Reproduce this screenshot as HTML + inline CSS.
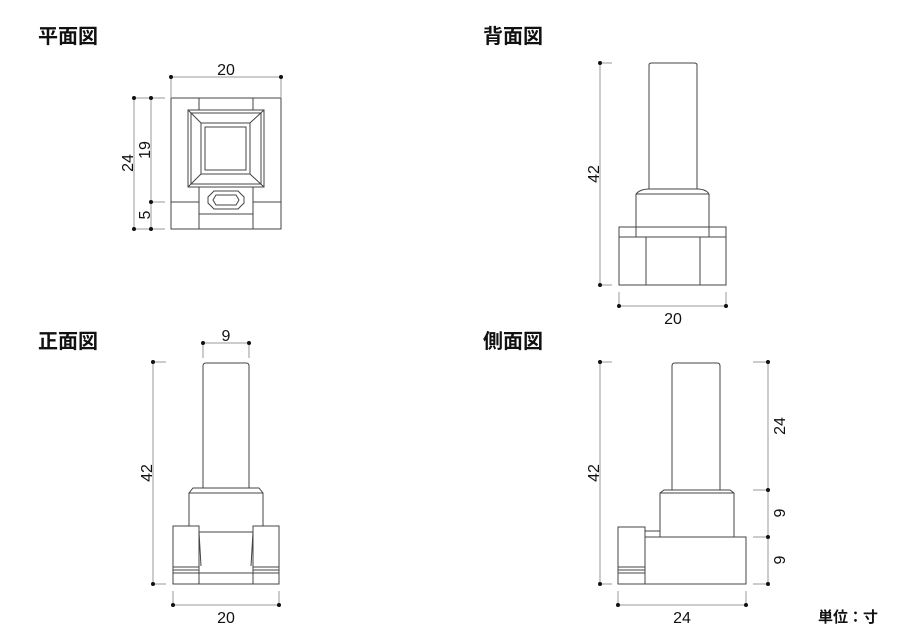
<!DOCTYPE html>
<html><head><meta charset="utf-8"><style>
html,body{margin:0;padding:0;background:#fff;}
svg{display:block;}
text{font-family:"Liberation Sans","Noto Sans CJK JP",sans-serif;fill:#111;}
.t{font-size:20px;font-weight:bold;}
.d{font-size:16px;}
</style></head><body>
<svg width="900" height="636" viewBox="0 0 900 636" xmlns="http://www.w3.org/2000/svg">
<g fill="none" stroke="#444" stroke-width="1">
<!-- PLAN -->
<rect x="171" y="98" width="110" height="131"/>
<line x1="199" y1="98" x2="199" y2="229"/><line x1="253" y1="98" x2="253" y2="229"/>
<line x1="171" y1="202" x2="199" y2="202"/><line x1="253" y1="202" x2="281" y2="202"/>
<rect x="199" y="187" width="54" height="27" fill="#fff"/>
<rect x="188" y="110" width="76" height="77" fill="#fff"/>
<rect x="201" y="123" width="49" height="51"/>
<rect x="205" y="127" width="41" height="43"/>
<line x1="188" y1="110" x2="201" y2="123"/><line x1="264" y1="110" x2="250" y2="123"/>
<line x1="188" y1="187" x2="201" y2="174"/><line x1="264" y1="187" x2="250" y2="174"/>
<rect x="191" y="113" width="70" height="71"/>
<path d="M214 191 H238 L244 197 V203 L238 209 H214 L208 203 V197 Z"/>
<path d="M216 195 H236 L239 200 L236 205 H216 L213 200 Z"/>
<!-- BACK -->
<path d="M649 189 V65 Q649 63 652 63 H694 Q697 63 697 65 V189"/>
<path d="M636 237 V194 Q640 189 649 189 H697 Q706 189 709 194 V237"/>
<line x1="636" y1="194" x2="709" y2="194"/>
<rect x="619" y="227" width="107" height="58"/>
<line x1="619" y1="237" x2="726" y2="237"/>
<line x1="646" y1="237" x2="646" y2="285"/><line x1="700" y1="237" x2="700" y2="285"/>
<!-- FRONT -->
<path d="M203 488 V366 Q203 363 206 363 H246 Q249 363 249 366 V488"/>
<path d="M189 526 V493 L193 488 H259 L263 493 V526"/>
<line x1="189" y1="493" x2="263" y2="493"/>
<rect x="173" y="526" width="26" height="58"/><rect x="253" y="526" width="26" height="58"/>
<rect x="199" y="532" width="54" height="52"/>
<line x1="173" y1="567" x2="199" y2="567"/><line x1="173" y1="570" x2="199" y2="570"/><line x1="173" y1="573" x2="279" y2="573"/>
<line x1="253" y1="567" x2="279" y2="567"/><line x1="253" y1="570" x2="279" y2="570"/>
<path d="M199 532 L201 566 M253 532 L251 566"/>
<!-- SIDE -->
<path d="M672 490 V366 Q672 363 675 363 H717 Q720 363 720 366 V490"/>
<path d="M660 537 V493 L664 490 H730 L734 493 V537"/>
<line x1="660" y1="493" x2="734" y2="493"/>
<rect x="645" y="537" width="101" height="47"/>
<rect x="618" y="527" width="27" height="57"/>
<rect x="645" y="531" width="15" height="6"/>
<line x1="618" y1="567" x2="645" y2="567"/><line x1="618" y1="570" x2="645" y2="570"/><line x1="618" y1="573" x2="645" y2="573"/>
</g>
<g fill="none" stroke="#999" stroke-width="1">
<line x1="171" y1="77" x2="281" y2="77"/><line x1="171" y1="77" x2="171" y2="97"/><line x1="281" y1="77" x2="281" y2="97"/>
<line x1="134" y1="98" x2="134" y2="229"/><line x1="151" y1="98" x2="151" y2="229"/>
<line x1="134" y1="98" x2="165" y2="98"/><line x1="151" y1="202" x2="165" y2="202"/><line x1="134" y1="229" x2="165" y2="229"/>
<line x1="600" y1="63" x2="600" y2="285"/><line x1="600" y1="63" x2="612" y2="63"/><line x1="600" y1="285" x2="612" y2="285"/>
<line x1="619" y1="306" x2="726" y2="306"/><line x1="619" y1="292" x2="619" y2="306"/><line x1="726" y1="292" x2="726" y2="306"/>
<line x1="203" y1="343" x2="249" y2="343"/><line x1="203" y1="343" x2="203" y2="358"/><line x1="249" y1="343" x2="249" y2="358"/>
<line x1="153" y1="362" x2="153" y2="584"/><line x1="153" y1="362" x2="166" y2="362"/><line x1="153" y1="584" x2="166" y2="584"/>
<line x1="173" y1="605" x2="279" y2="605"/><line x1="173" y1="591" x2="173" y2="605"/><line x1="279" y1="591" x2="279" y2="605"/>
<line x1="600" y1="362" x2="600" y2="584"/><line x1="600" y1="362" x2="612" y2="362"/><line x1="600" y1="584" x2="612" y2="584"/>
<line x1="618" y1="605" x2="746" y2="605"/><line x1="618" y1="591" x2="618" y2="605"/><line x1="746" y1="591" x2="746" y2="605"/>
<line x1="768" y1="362" x2="768" y2="584"/>
<line x1="753" y1="362" x2="768" y2="362"/><line x1="753" y1="490" x2="768" y2="490"/><line x1="753" y1="537" x2="768" y2="537"/><line x1="753" y1="584" x2="768" y2="584"/>
</g>
<g fill="#111">
<circle cx="171" cy="77" r="2"/><circle cx="281" cy="77" r="2"/>
<circle cx="134" cy="98" r="2"/><circle cx="151" cy="98" r="2"/><circle cx="151" cy="202" r="2"/><circle cx="134" cy="229" r="2"/><circle cx="151" cy="229" r="2"/>
<circle cx="600" cy="63" r="2"/><circle cx="600" cy="285" r="2"/><circle cx="619" cy="306" r="2"/><circle cx="726" cy="306" r="2"/>
<circle cx="203" cy="343" r="2"/><circle cx="249" cy="343" r="2"/>
<circle cx="153" cy="362" r="2"/><circle cx="153" cy="584" r="2"/><circle cx="173" cy="605" r="2"/><circle cx="279" cy="605" r="2"/>
<circle cx="600" cy="362" r="2"/><circle cx="600" cy="584" r="2"/><circle cx="618" cy="605" r="2"/><circle cx="746" cy="605" r="2"/>
<circle cx="768" cy="362" r="2"/><circle cx="768" cy="490" r="2"/><circle cx="768" cy="537" r="2"/><circle cx="768" cy="584" r="2"/>
</g>
<text class="t" x="38" y="43">平面図</text>
<text class="t" x="483" y="43">背面図</text>
<text class="t" x="38" y="348">正面図</text>
<text class="t" x="483" y="348">側面図</text>
<text class="d" x="226" y="75" text-anchor="middle">20</text>
<text class="d" transform="translate(133,163) rotate(-90)" text-anchor="middle">24</text>
<text class="d" transform="translate(150,150) rotate(-90)" text-anchor="middle">19</text>
<text class="d" transform="translate(150,215) rotate(-90)" text-anchor="middle">5</text>
<text class="d" transform="translate(599,174) rotate(-90)" text-anchor="middle">42</text>
<text class="d" x="673" y="324" text-anchor="middle">20</text>
<text class="d" x="226" y="341" text-anchor="middle">9</text>
<text class="d" transform="translate(152,473) rotate(-90)" text-anchor="middle">42</text>
<text class="d" x="226" y="623" text-anchor="middle">20</text>
<text class="d" transform="translate(599,473) rotate(-90)" text-anchor="middle">42</text>
<text class="d" x="682" y="623" text-anchor="middle">24</text>
<text class="d" transform="translate(785,426) rotate(-90)" text-anchor="middle">24</text>
<text class="d" transform="translate(785,513) rotate(-90)" text-anchor="middle">9</text>
<text class="d" transform="translate(785,560) rotate(-90)" text-anchor="middle">9</text>
<text x="818" y="622" style="font-size:15px;font-weight:bold">単位：寸</text>
</svg>
</body></html>
